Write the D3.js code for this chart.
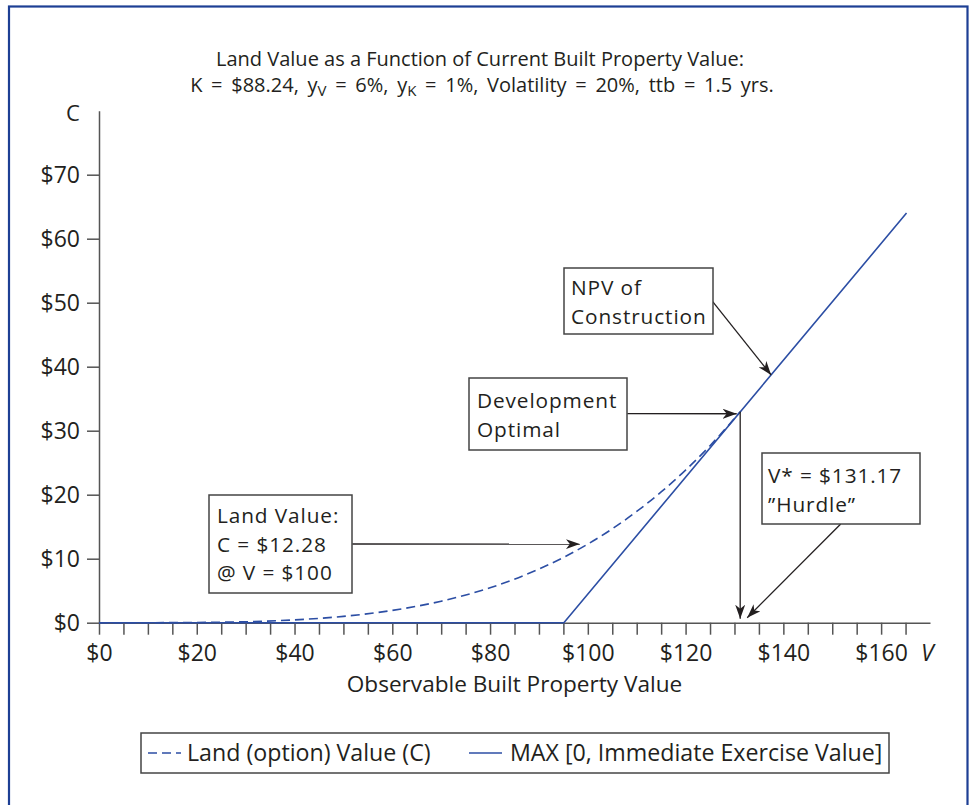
<!DOCTYPE html>
<html>
<head>
<meta charset="utf-8">
<script src="https://cdn.jsdelivr.net/npm/d3@7"></script>
<style>
  body { margin: 0; background: #fff; }
  svg text { font-family: "Open Sans", "Noto Sans", sans-serif; fill: #231f20; }
</style>
</head>
<body>
<div id="chart-area"></div>
<script>

let width = 973,
height = 805;

// Land (option) value curve
let landV = [0, 10, 20, 30, 40, 50, 60, 70, 80, 90, 100, 105, 110, 115, 120, 125, 131.17];
let landC = [0, 0, 0.04, 0.15, 0.44, 0.99, 1.92, 3.36, 5.46, 8.38, 12.28, 14.67, 17.38, 20.43, 23.85, 27.66, 32.96];

// MAX[0, immediate exercise value], solid line
let exerV = [0, 95.1, 165.2];
let exerC = [0, 0, 64.0];

let yTicks = [0, 10, 20, 30, 40, 50, 60, 70];
let xTicks = d3.range(0, 166, 5);
let xLabelTicks = [0, 20, 40, 60, 80, 100, 120, 140, 160];

let titleLines = ["Land Value as a Function of Current Built Property Value:"];

let svg = d3.select("#chart-area").append("svg")
.attr("width", width)
.attr("height", height);

svg.append("rect")
	.attr("width", width).attr("height", height)
	.attr("fill", "#fff");

// blue frame
svg.append("rect")
	.attr("x", 9).attr("y", 6.5)
	.attr("width", 958.5).attr("height", 820)
	.attr("fill", "none")
	.attr("stroke", "#1d3f94")
	.attr("stroke-width", 2.2);

let x = d3.scaleLinear().domain([0, 170]).range([99, 930]);
let y = d3.scaleLinear().domain([0, 80]).range([622.7, 110.7]);

// arrow marker
let defs = svg.append("defs");
defs.append("marker")
	.attr("id", "arrow")
	.attr("viewBox", "0 0 14 10")
	.attr("refX", 14).attr("refY", 5)
	.attr("markerWidth", 14).attr("markerHeight", 10)
	.attr("markerUnits", "userSpaceOnUse")
	.attr("orient", "auto")
	.append("path")
	.attr("d", "M0,0 L14,5 L0,10 L4,5 Z")
	.attr("fill", "#231f20");

// title
let title = svg.append("text")
	.attr("text-anchor", "middle")
	.style("font-size", "20px");
title.append("tspan").attr("x", 480).attr("y", 66).text(titleLines[0]);
let t2 = title.append("tspan").attr("x", 482).attr("y", 92).style("word-spacing", "3.5px");
t2.append("tspan").text("K = $88.24, y");
t2.append("tspan").attr("dy", 4).style("font-size", "15px").text("V");
t2.append("tspan").attr("dy", -4).text(" = 6%, y");
t2.append("tspan").attr("dy", 4).style("font-size", "15px").text("K");
t2.append("tspan").attr("dy", -4).text(" = 1%, Volatility = 20%, ttb = 1.5 yrs.");

// axes
let yAxis = d3.axisLeft(y)
	.tickValues(yTicks)
	.tickSize(12)
	.tickSizeOuter(0)
	.tickPadding(7)
	.tickFormat(d => "$" + d);

let xAxis = d3.axisBottom(x)
	.tickValues(xTicks)
	.tickSize(12)
	.tickSizeOuter(0)
	.tickPadding(10)
	.tickFormat(d => xLabelTicks.includes(d) ? "$" + d : "");

let gy = svg.append("g")
	.attr("transform", "translate(" + x(0) + ",0)")
	.call(yAxis);

let gx = svg.append("g")
	.attr("transform", "translate(0," + y(0) + ")")
	.call(xAxis);

[gx, gy].forEach(g => {
	g.selectAll("path, line").attr("stroke", "#555").attr("stroke-width", 1.5);
	g.selectAll("text").style("font-size", "23px").attr("fill", "#231f20")
		.style("font-family", "'Open Sans', sans-serif");
});
gx.selectAll("text").attr("dy", null).attr("y", 38.5);

svg.append("text")
	.attr("x", 73).attr("y", 121)
	.attr("text-anchor", "middle")
	.style("font-size", "22px")
	.text("C");

svg.append("text")
	.attr("x", 921).attr("y", 661)
	.style("font-size", "23px")
	.style("font-style", "italic")
	.text("V");

svg.append("text")
	.attr("x", x(85)).attr("y", 692)
	.attr("text-anchor", "middle")
	.style("font-size", "22.6px")
	.text("Observable Built Property Value");

// series
let line = d3.line()
	.x(d => x(d[0]))
	.y(d => y(d[1]));

svg.append("path")
	.datum(exerV.map((v, i) => [v, exerC[i]]))
	.attr("d", line)
	.attr("fill", "none")
	.attr("stroke", "#2c4ea4")
	.attr("stroke-width", 1.6);

svg.append("path")
	.datum(landV.map((v, i) => [v, landC[i]]))
	.attr("d", line.curve(d3.curveMonotoneX))
	.attr("fill", "none")
	.attr("stroke", "#2c4ea4")
	.attr("stroke-width", 1.6)
	.attr("stroke-dasharray", "9,5");

// annotations
let notes = [
	{ lines: ["NPV of", "Construction"], box: [564, 268, 149, 66], tx: 571, ty: 295,
	  from: [712.7, 301.7], to: [137.5, 38.7], off: [0, 0] },
	{ lines: ["Development", "Optimal"], box: [469, 378, 158, 72], tx: 477, ty: 408,
	  from: [627.3, 413.7], to: [131.17, 32.96], off: [-3.5, 2] },
	{ lines: ["V* = $131.17", "\u201dHurdle\u201d"], box: [762, 453, 158, 71], tx: 768, ty: 483,
	  from: [840.7, 524], to: [131.17, 0], off: [7, -5] },
	{ lines: ["Land Value:", "C = $12.28", "@ V = $100"], box: [209, 495, 143, 98], tx: 217, ty: 523,
	  from: [352.3, 544], to: [100, 12.28], off: [-8, 0] }
];

notes.forEach(n => {
	svg.append("line")
		.attr("x1", n.from[0]).attr("y1", n.from[1])
		.attr("x2", x(n.to[0]) + n.off[0]).attr("y2", y(n.to[1]) + n.off[1])
		.attr("stroke", "#231f20")
		.attr("stroke-width", 1.3)
		.attr("marker-end", "url(#arrow)");
	svg.append("rect")
		.attr("x", n.box[0]).attr("y", n.box[1])
		.attr("width", n.box[2]).attr("height", n.box[3])
		.attr("fill", "#fff")
		.attr("stroke", "#444")
		.attr("stroke-width", 1.5);
	let t = svg.append("text")
		.attr("y", n.ty)
		.style("font-size", "20.8px")
		.style("letter-spacing", "0.9px");
	n.lines.forEach((l, i) => {
		t.append("tspan")
			.attr("x", n.tx)
			.attr("dy", i == 0 ? 0 : 28.5)
			.text(l);
	});
});

// vertical arrow down from development optimal point
svg.append("line")
	.attr("x1", x(131.17)).attr("y1", y(32.96))
	.attr("x2", x(131.17)).attr("y2", y(0) - 4)
	.attr("stroke", "#231f20")
	.attr("stroke-width", 1.3)
	.attr("marker-end", "url(#arrow)");

// legend
let legend = svg.append("g");
legend.append("rect")
	.attr("x", 141).attr("y", 733)
	.attr("width", 748).attr("height", 40)
	.attr("fill", "#fff")
	.attr("stroke", "#444")
	.attr("stroke-width", 1.5);
legend.append("line")
	.attr("x1", 148).attr("x2", 181).attr("y1", 753).attr("y2", 753)
	.attr("stroke", "#2c4ea4").attr("stroke-width", 1.6)
	.attr("stroke-dasharray", "9,5");
legend.append("text")
	.attr("x", 187).attr("y", 761)
	.style("font-size", "23.2px")
	.text("Land (option) Value (C)");
legend.append("line")
	.attr("x1", 469).attr("x2", 502).attr("y1", 753).attr("y2", 753)
	.attr("stroke", "#2c4ea4").attr("stroke-width", 1.6);
legend.append("text")
	.attr("x", 510).attr("y", 761)
	.style("font-size", "23.2px")
	.text("MAX [0, Immediate Exercise Value]");

</script>
</body>
</html>
